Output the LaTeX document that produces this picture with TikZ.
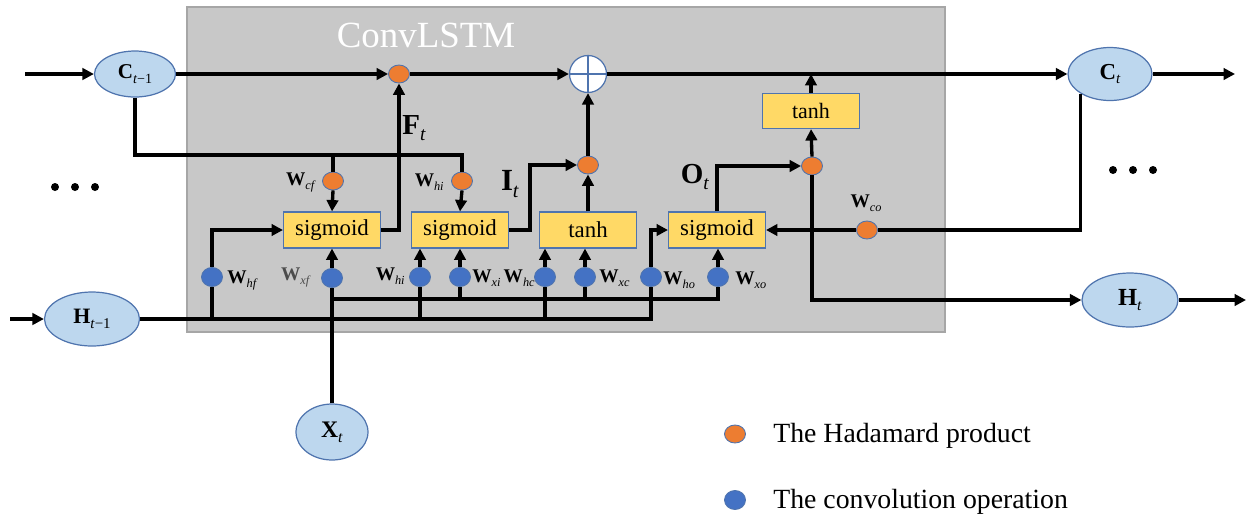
\documentclass[tikz,border=0pt]{standalone}
\usepackage{fontspec}
\setmainfont{Liberation Serif}
\usetikzlibrary{arrows.meta,shapes.geometric}
\definecolor{boxgray}{HTML}{C8C8C8}
\definecolor{boxedge}{HTML}{A6A6A6}
\definecolor{ellfill}{HTML}{BDD7EE}
\definecolor{ledge}{HTML}{4F74AE}
\definecolor{hadorange}{HTML}{ED7D31}
\definecolor{convblue}{HTML}{4472C4}
\definecolor{gatey}{HTML}{FFD966}
\newcommand{\fsz}[1]{\fontsize{#1}{#1}\selectfont}
\newcommand{\lowsub}[2]{\raisebox{-0.45ex}{\fsz{#1}#2}}
\newcommand{\wlab}[1]{\fsz{11}\textbf{W}\lowsub{7}{\textit{#1}}}
\begin{document}
\begin{tikzpicture}[x=0.02cm,y=-0.02cm,
  wire/.style={line width=1.9pt, black},
  arr/.style={wire, -{Triangle[length=6.5pt,width=6.5pt]}},
  state/.style={ellipse, draw=ledge, fill=ellfill, line width=0.7pt, inner sep=0pt},
  hadam/.style={ellipse, draw=ledge, fill=hadorange, line width=0.5pt, minimum width=0.42cm, minimum height=0.36cm, inner sep=0pt},
  conv/.style={ellipse, draw=ledge, fill=convblue, line width=0.5pt, minimum width=0.42cm, minimum height=0.38cm, inner sep=0pt},
  gate/.style={rectangle, draw=ledge, fill=gatey, line width=0.6pt, minimum width=1.94cm, minimum height=0.72cm, inner sep=0pt, font=\fsz{13}},
  wl/.style={inner sep=0pt},
  legendtext/.style={inner sep=0pt, anchor=west, font=\fsz{15.8}}
]
\useasboundingbox (0,0) rectangle (1248,518);
% gray cell
\draw[fill=boxgray, draw=boxedge, line width=0.8pt] (187,7) rectangle (945,332);
\node[wl, text=white, font=\fsz{21}] (title) at (426,35) {ConvLSTM};

% states
\node[state, minimum width=1.62cm, minimum height=0.92cm] (Cm) at (135,74) {\fsz{12}\textbf{C}\lowsub{8}{\textit{t}−1}};
\node[state, minimum width=1.68cm, minimum height=1.06cm] (Ct) at (1110,74) {\fsz{13}\textbf{C}\lowsub{8.5}{\textit{t}}};
\node[state, minimum width=1.9cm, minimum height=1.08cm] (Hm) at (92,319) {\fsz{12.5}\textbf{H}\lowsub{8.5}{\textit{t}−1}};
\node[state, minimum width=1.92cm, minimum height=1.08cm] (Ht) at (1130,300) {\fsz{14}\textbf{H}\lowsub{9}{\textit{t}}};
\node[state, minimum width=1.44cm, minimum height=1.12cm] (Xt) at (332,432) {\fsz{13.5}\textbf{X}\lowsub{9}{\textit{t}}};

% hadamard dots
\node[hadam] (Ofc) at (399,74) {};
\node[hadam] (Oit) at (588,165) {};
\node[hadam] (Oot) at (812,166) {};
\node[hadam] (Ocf) at (333,181) {};
\node[hadam] (Oci) at (462,181) {};
\node[hadam] (Oco) at (867,230) {};

% sum
\node[circle, draw=ledge, fill=white, line width=0.7pt, minimum size=0.74cm, inner sep=0pt] (Plus) at (588,74) {};
\draw[ledge, line width=0.6pt] (Plus.north) -- (Plus.south) (Plus.west) -- (Plus.east);

% gates
\node[gate] (G1) at (332,230) {sigmoid};
\node[gate] (G2) at (460,230) {sigmoid};
\node[gate] (G3) at (588,230) {tanh};
\node[gate] (G4) at (717,230) {sigmoid};
\node[gate, minimum height=0.7cm, font=\fsz{12.5}] (Gt) at (811,111) {tanh};

% convolution dots
\node[conv] (Bhf) at (212,277) {};
\node[conv] (Bxf) at (332,278) {};
\node[conv] (Bhi) at (420,277) {};
\node[conv] (Bxi) at (460,277) {};
\node[conv] (Bhc) at (545,277) {};
\node[conv] (Bxc) at (585,277) {};
\node[conv] (Bho) at (651,277) {};
\node[conv] (Bxo) at (718,277) {};

% labels
\node[wl, anchor=east] (lwcf) at (316,182) {\wlab{cf}};
\node[wl, anchor=east] (lwci) at (444,182) {\wlab{hi}};
\node[wl] (lwco) at (866,203) {\wlab{co}};
\node[wl, anchor=west] (lwhf) at (227,280) {\wlab{hf}};
\node[wl, anchor=east, text=black!70] (lwxf) at (311,277) {\wlab{xf}};
\node[wl, anchor=east] (lwhi) at (405,276) {\wlab{hi}};
\node[wl, anchor=west] (lwxi) at (472,278) {\wlab{xi}};
\node[wl, anchor=east] (lwhc) at (535,278) {\wlab{hc}};
\node[wl, anchor=west] (lwxc) at (599,278) {\wlab{xc}};
\node[wl, anchor=west] (lwho) at (663,280) {\wlab{ho}};
\node[wl, anchor=west] (lwxo) at (735,280) {\wlab{xo}};
\node[wl, anchor=west] (lFt) at (402,128) {\fsz{16.5}\textbf{F}\lowsub{11}{\textit{t}}};
\node[wl] (lIt) at (510,184) {\fsz{17.5}\textbf{I}\lowsub{11.5}{\textit{t}}};
\node[wl] (lOt) at (695,177) {\fsz{16.5}\textbf{O}\lowsub{11}{\textit{t}}};

% free ends
\coordinate (inC) at (25,74);
\coordinate (outC) at (1235,74);
\coordinate (inH) at (10,319);
\coordinate (outH) at (1246,300);
\coordinate (cbar) at (462,155);
\coordinate (xj) at (332,299);

% cell-state path
\draw[arr] (inC) -- (Cm.west);
\draw[arr] (Cm.east) -- (Ofc.west);
\draw[arr] (Ofc.east) -- (Plus.west);
\draw[arr] (Plus.east) -- (Ct.west);
\draw[arr] (Ct.east) -- (outC);

% peephole from C_{t-1}
\draw[wire] (Cm.south) |- (cbar) -- (Oci.north);
\draw[wire] (Ocf.north |- cbar) -- (Ocf.north);
\draw[arr] (Ocf.south) -- (G1.north);
\draw[arr] (Oci.south) -- (G2.north);

% gate outputs
\draw[arr] (G1.east) -| (Ofc.south);
\draw[arr] (G2.east) -- ++(21,0) |- (Oit.west);
\draw[arr] (G3.north) -- (Oit.south);
\draw[arr] (Oit.north) -- (Plus.south);
\draw[arr] (G4.north) |- (Oot.west);
\draw[arr] (Oot.north) -- (Gt.south);
\draw[arr] (Gt.north) -- (Gt.north |- Ct.center);
\draw[arr] (Oot.south) |- (Ht.west);
\draw[arr] (Ht.east) -- (outH);

% peephole from C_t
\draw[wire] (Ct.214) |- (Oco.east);
\draw[arr] (Oco.west) -- (G4.east);

% hidden-state input
\draw[arr] (inH) -- (Hm.west);
\draw[wire] (Hm.east) -- (Bho.south |- Hm.east) -- (Bho.south);
\draw[wire] (Bhf.south) -- (Bhf.south |- Hm.east);
\draw[wire] (Bhi.south) -- (Bhi.south |- Hm.east);
\draw[wire] (Bhc.south) -- (Bhc.south |- Hm.east);
\draw[arr] (Bhf.north) |- (G1.west);
\draw[arr] (Bho.north) |- (G4.west);

% input x
\draw[wire] (Xt.north) -- (Bxf.south);
\draw[wire] (xj) -| (Bxo.south);
\draw[wire] (Bxi.south) -- (Bxi.south |- xj);
\draw[wire] (Bxc.south) -- (Bxc.south |- xj);

% convolutions into gates
\draw[arr] (Bxf.north) -- (Bxf.north |- G1.south);
\draw[arr] (Bhi.north) -- (Bhi.north |- G2.south);
\draw[arr] (Bxi.north) -- (Bxi.north |- G2.south);
\draw[arr] (Bhc.north) -- (Bhc.north |- G3.south);
\draw[arr] (Bxc.north) -- (Bxc.north |- G3.south);
\draw[arr] (Bxo.north) -- (Bxo.north |- G4.south);

% ellipsis dots
\foreach \px in {55,75,95} \fill (\px,187) circle[radius=0.08cm];
\foreach \px in {1113,1133,1153} \fill (\px,170) circle[radius=0.08cm];

% legend
\node[hadam] (legH) at (735,434) {};
\node[legendtext] (legHt) at (773,436) {The Hadamard product};
\node[conv] (legC) at (735,500) {};
\node[legendtext] (legCt) at (773,502) {The convolution operation};
\end{tikzpicture}
\end{document}
